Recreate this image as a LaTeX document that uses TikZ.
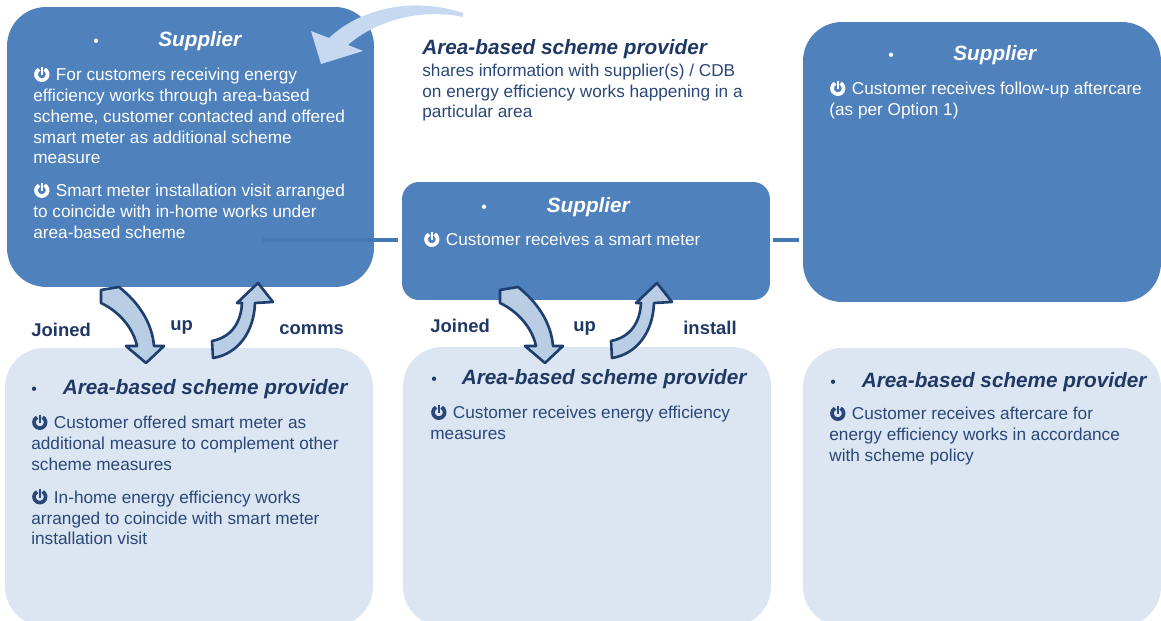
\documentclass[tikz,border=0pt]{standalone}
\usepackage{fontspec}
\setmainfont{Liberation Sans}
\usepackage{xcolor}
\usetikzlibrary{calc,
	positioning}
\definecolor{boxdark}{HTML}{4F81BD}
\definecolor{boxlight}{HTML}{DCE6F2}
\definecolor{arrfill}{HTML}{B9CDE5}
\definecolor{arrline}{HTML}{1F3F6E}
\definecolor{bigarr}{HTML}{C6D9F1}
\definecolor{navy}{HTML}{1F3864}
\definecolor{bodyblue}{HTML}{2A4778}
\definecolor{linkblue}{HTML}{4577B3}
\tikzstyle{dbox}=[fill=boxdark, rounded corners=0.78cm, inner sep=0]
\tikzstyle{lbox}=[fill=boxlight, rounded corners=0.78cm, inner sep=0]
\tikzstyle{hd}=[anchor=base west, inner sep=0, font=\fontsize{11.8}{14}\selectfont\bfseries\itshape]
\tikzstyle{txt}=[anchor=base west, inner sep=0, font=\fontsize{9.8}{11.8}\selectfont]
\tikzstyle{lab}=[anchor=base west, inner sep=0, text=navy, font=\fontsize{10.5}{12}\selectfont\bfseries]
\tikzstyle{blk}=[fill=arrfill, draw=arrline, line width=1.5pt, line join=round]
\tikzstyle{link}=[draw=linkblue, line width=0.09cm]
\newcommand{\hb}[1]{\makebox[#1][l]{\normalfont\fontsize{9}{9}\selectfont\textbullet}}
\newcommand{\ptext}[1]{\parbox[t]{7.2cm}{\raggedright #1}}
\newcommand{\pwr}{\tikz[x=1pt,y=1pt,baseline=0pt]{\draw[line width=2.1pt] (4.4,3.8) ++(62:3.3) arc[start angle=62,end angle=-242,radius=3.3]; \draw[line width=1.4pt] (4.4,8.2) -- (4.4,3.4);}\hspace{3.2pt}}

\begin{document}
\begin{tikzpicture}[x=0.02cm, y=-0.02cm]
\useasboundingbox (0,0) rectangle (1161,621);
\clip (0,0) rectangle (1161,621);
% supplier boxes
\node[dbox, minimum width=7.34cm, minimum height=5.6cm] (tlsup) at (190.5,147) {};
\node[dbox, rounded corners=0.34cm, minimum width=7.36cm, minimum height=2.36cm] (msup) at (586,241) {};
\node[dbox, minimum width=7.16cm, minimum height=5.6cm] (rsup) at (982,162) {};
% provider boxes
\node[lbox, minimum width=7.36cm, minimum height=5.56cm] (lprov) at (189,487) {};
\node[lbox, minimum width=7.36cm, minimum height=5.58cm] (mprov) at (587,486.5) {};
\node[lbox, minimum width=7.16cm, minimum height=5.56cm] (rprov) at (982,487) {};
% links
\coordinate (tlj) at (263,240);
\draw[link, shorten >=0.08cm] (tlj) -- (msup.west |- tlj);
\draw[link, shorten <=0.06cm, shorten >=0.08cm] (msup.east |- tlj) -- (rsup.west |- tlj);
% headings
\node[hd, text=white] (tlh) at (93,47) {\hb{1.3cm}Supplier};
\node[hd, text=white] (mh) at (481,213) {\hb{1.31cm}Supplier};
\node[hd, text=white] (rh) at (888,61) {\hb{1.3cm}Supplier};
\node[hd, text=navy] (lph) at (31,395) {\hb{0.63cm}Area-based scheme provider};
\node[hd, text=navy] (mph) at (431,385) {\hb{0.61cm}Area-based scheme provider};
\node[hd, text=navy] (rph) at (830,388) {\hb{0.63cm}Area-based scheme provider};
\node[hd, text=navy] (toph) at (422,55) {Area-based scheme provider};
% texts
\node[txt, text=white] (tlt) at (33,81) {\ptext{\pwr For customers receiving energy\\
	efficiency works through area-based\\
	scheme, customer contacted and offered\\
	smart meter as additional scheme\\
	measure\\[7pt]
	\pwr Smart meter installation visit arranged\\
	to coincide with in-home works under\\
	area-based scheme}};
\node[txt, text=white] (mt) at (423,246) {\ptext{\pwr Customer receives a smart meter}};
\node[txt, text=white] (rt) at (829,95) {\ptext{\pwr Customer receives follow-up aftercare\\
	(as per Option 1)}};
\node[txt, text=bodyblue] (lpt) at (31,429) {\ptext{\pwr Customer offered smart meter as\\
	additional measure to complement other\\
	scheme measures\\[7pt]
	\pwr In-home energy efficiency works\\
	arranged to coincide with smart meter\\
	installation visit}};
\node[txt, text=bodyblue] (mpt) at (430,419) {\ptext{\pwr Customer receives energy efficiency\\
	measures}};
\node[txt, text=bodyblue] (rpt) at (829,420) {\ptext{\pwr Customer receives aftercare for\\
	energy efficiency works in accordance\\
	with scheme policy}};
\node[txt, text=bodyblue, font=\fontsize{9.8}{11.4}\selectfont] (topt) at (422,77) {\ptext{shares information with supplier(s) / CDB\\
	on energy efficiency works happening in a\\
	particular area}};
% labels
\node[lab] (j1) at (31,337) {Joined};
\node[lab] (u1) at (170,331) {up};
\node[lab] (c1) at (279,335) {comms};
\node[lab] (j2) at (430,333) {Joined};
\node[lab] (u2) at (573,332) {up};
\node[lab] (i2) at (683,335) {install};
% curved arrows
\foreach \dx in {0,399}{
	\begin{scope}[xshift=\dx*0.02cm]
		\draw[blk] (101,303) -- (101,290) -- (119,287) .. controls (138,302) and (152,322) .. (154,346) -- (164,346) -- (146,363) -- (126,346) -- (137,346) .. controls (133,327) and (118,311) .. (101,303) -- cycle;
		\draw[blk] (212,341) -- (213,358) .. controls (238,354) and (254,332) .. (255,303) -- (273,302) -- (258,283) -- (237,303) -- (242,303) .. controls (241,322) and (232,337) .. (212,341) -- cycle;
	\end{scope}
}
% big arrow
\fill[bigarr] (463,13) .. controls (415,-3) and (362,7) .. (329,38) -- (311,31) -- (321,64) -- (363,51) -- (348,45) .. controls (375,21) and (420,8) .. (463,17) -- cycle;
\end{tikzpicture}
\end{document}
